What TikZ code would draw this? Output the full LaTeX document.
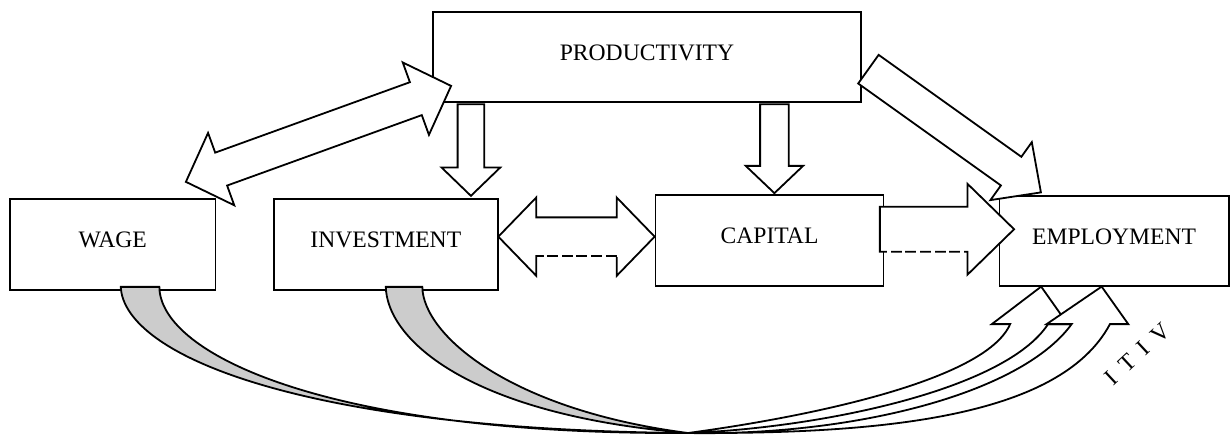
\documentclass[tikz,border=0pt]{standalone}
\usepackage{fontspec}
\setmainfont{Liberation Serif}
\usetikzlibrary{calc}

\tikzset{
  box/.style={draw, line width=0.9pt, minimum width=#1, minimum height=45.3pt,
    inner sep=0pt, text depth=4.5pt, font=\fontsize{11.8pt}{14pt}\selectfont},
  fat/.style={draw, line width=0.9pt, fill=white},
  band/.style={draw, line width=0.9pt, fill=gray!40},
  gapdash/.style={white, line width=1.3pt, dash pattern=on 1.8pt off 5.5pt, dash phase=3.65pt},
}

% name, tail, tip, half shaft, half head, head length
\newcommand\fatarrow[6]{%
  \path ($(#3)!#6!(#2)$) coordinate (#1-b);
  \path ($(#2)!#4!90:(#3)$) coordinate (#1-t1) ($(#2)!#4!-90:(#3)$) coordinate (#1-t2);
  \path ($(#1-b)!#4!90:(#3)$) coordinate (#1-s1) ($(#1-b)!#4!-90:(#3)$) coordinate (#1-s2);
  \path ($(#1-b)!#5!90:(#3)$) coordinate (#1-h1) ($(#1-b)!#5!-90:(#3)$) coordinate (#1-h2);
  \draw[fat] (#1-t1) -- (#1-s1) -- (#1-h1) -- (#3) -- (#1-h2) -- (#1-s2) -- (#1-t2) -- cycle;
}

% name, tip A, tip B, half shaft, half head, head length
\newcommand\twinarrow[6]{%
  \path ($(#2)!#6!(#3)$) coordinate (#1-a) ($(#3)!#6!(#2)$) coordinate (#1-b);
  \path ($(#1-a)!#4!90:(#3)$) coordinate (#1-sa1) ($(#1-a)!#4!-90:(#3)$) coordinate (#1-sa2);
  \path ($(#1-a)!#5!90:(#3)$) coordinate (#1-ha1) ($(#1-a)!#5!-90:(#3)$) coordinate (#1-ha2);
  \path ($(#1-b)!#4!90:(#3)$) coordinate (#1-sb1) ($(#1-b)!#4!-90:(#3)$) coordinate (#1-sb2);
  \path ($(#1-b)!#5!90:(#3)$) coordinate (#1-hb1) ($(#1-b)!#5!-90:(#3)$) coordinate (#1-hb2);
  \draw[fat] (#2) -- (#1-ha1) -- (#1-sa1) -- (#1-sb1) -- (#1-hb1) -- (#3)
    -- (#1-hb2) -- (#1-sb2) -- (#1-sa2) -- (#1-ha2) -- cycle;
}

\begin{document}
\begin{tikzpicture}[x=0.5pt, y=-0.5pt]
  \useasboundingbox (0,0) rectangle (1230,434);

  \node[box=214pt, minimum height=45pt] (prod) at (647,56.7) {PRODUCTIVITY};
  \node[box=102.75pt] (wage) at (112.75,244.65) {WAGE};
  \node[box=112.2pt] (inv) at (385.8,244.65) {INVESTMENT};
  \node[box=114pt] (cap) at (769.55,240.35) {CAPITAL};
  \node[box=114.65pt, minimum height=45pt] (emp) at (1114.15,240.7) {EMPLOYMENT};

  % curved arrows under the boxes
  \coordinate (low) at (688,433);
  \coordinate (wb1) at ($(wage.south)+(8,-4)$);
  \coordinate (wb2) at ($(wage.south)+(46.6,-4)$);
  \coordinate (ib1) at ($(inv.south)+(0,-4)$);
  \coordinate (ib2) at ($(inv.south)+(36.5,-4)$);
  \coordinate (ua) at ($(emp.south)+(-73,0)$);
  \coordinate (la) at ($(emp.south)+(-12.5,0)$);

  \draw[band] (ib1) .. controls (387,340) and (470,415) .. (low)
    .. controls (510,410) and (423,335) .. (ib2) -- cycle;
  \draw[band] (wb1) .. controls (124,355) and (300,430) .. (low)
    .. controls (330,435) and (160,355) .. (wb2) -- cycle;

  \draw[fat] (low) .. controls (800,418) and (985,382) .. ($(ua)+(-31,37.5)$) -- ++(-18.3,0)
    -- (ua) -- ++(26.5,37.5) -- ++(-19.6,0) .. controls (1005,390) and (820,428) .. (low) -- cycle;
  \draw[fat] (low) .. controls (850,436) and (1020,395) .. ($(la)+(-30,37.5)$) -- ++(-25,0)
    -- (la) -- ++(26.6,37.5) -- ++(-18.3,0) .. controls (1060,418) and (880,434) .. (low) -- cycle;

  % block arrows
  \coordinate (wp1) at ($(wage.north east)+(-30.5,-16.6)$);
  \coordinate (wp2) at ($(prod.south west)+(19,-16.7)$);
  \twinarrow{wp}{wp1}{wp2}{8.75pt}{19.25pt}{18.75pt}

  \coordinate (pi2) at ($(inv.north east)+(-28,-2.6)$);
  \coordinate (pi1) at ($(prod.south -| pi2)+(0,1.6)$);
  \fatarrow{pi}{pi1}{pi2}{6.65pt}{14.65pt}{14.15pt}

  \coordinate (pc2) at ($(cap.north)+(4.85,-1)$);
  \coordinate (pc1) at ($(prod.south -| pc2)+(0,1.6)$);
  \fatarrow{pc}{pc1}{pc2}{7.15pt}{14.35pt}{13.65pt}

  \coordinate (pe1) at ($(prod.east)+(6.5,12.5)$);
  \coordinate (pe2) at ($(emp.north west)+(42.3,-2.4)$);
  \fatarrow{pe}{pe1}{pe2}{8.8pt}{17.8pt}{18.3pt}

  \coordinate (ic1) at ($(inv.east)+(-0.6,-8)$);
  \coordinate (ic2) at (cap.west |- ic1);
  \twinarrow{ic}{ic1}{ic2}{9.65pt}{19.6pt}{19pt}
  \draw[gapdash] (ic-sa2) -- (ic-sb2);

  \coordinate (ce1) at ($(cap.east)+(-4.6,-11.1)$);
  \coordinate (ce2) at ($(ce1 -| emp.west)+(15.5,0)$);
  \fatarrow{ce}{ce1}{ce2}{11.25pt}{22.75pt}{23.35pt}
  \draw[gapdash] (ce-t2) -- (ce-s2);

  \node[rotate=43, font=\fontsize{11.8pt}{14pt}\selectfont] (itiv) at (1137.5,354)
    {I\hspace{0.45em}T\hspace{0.45em}I\hspace{0.45em}V};
\end{tikzpicture}
\end{document}
